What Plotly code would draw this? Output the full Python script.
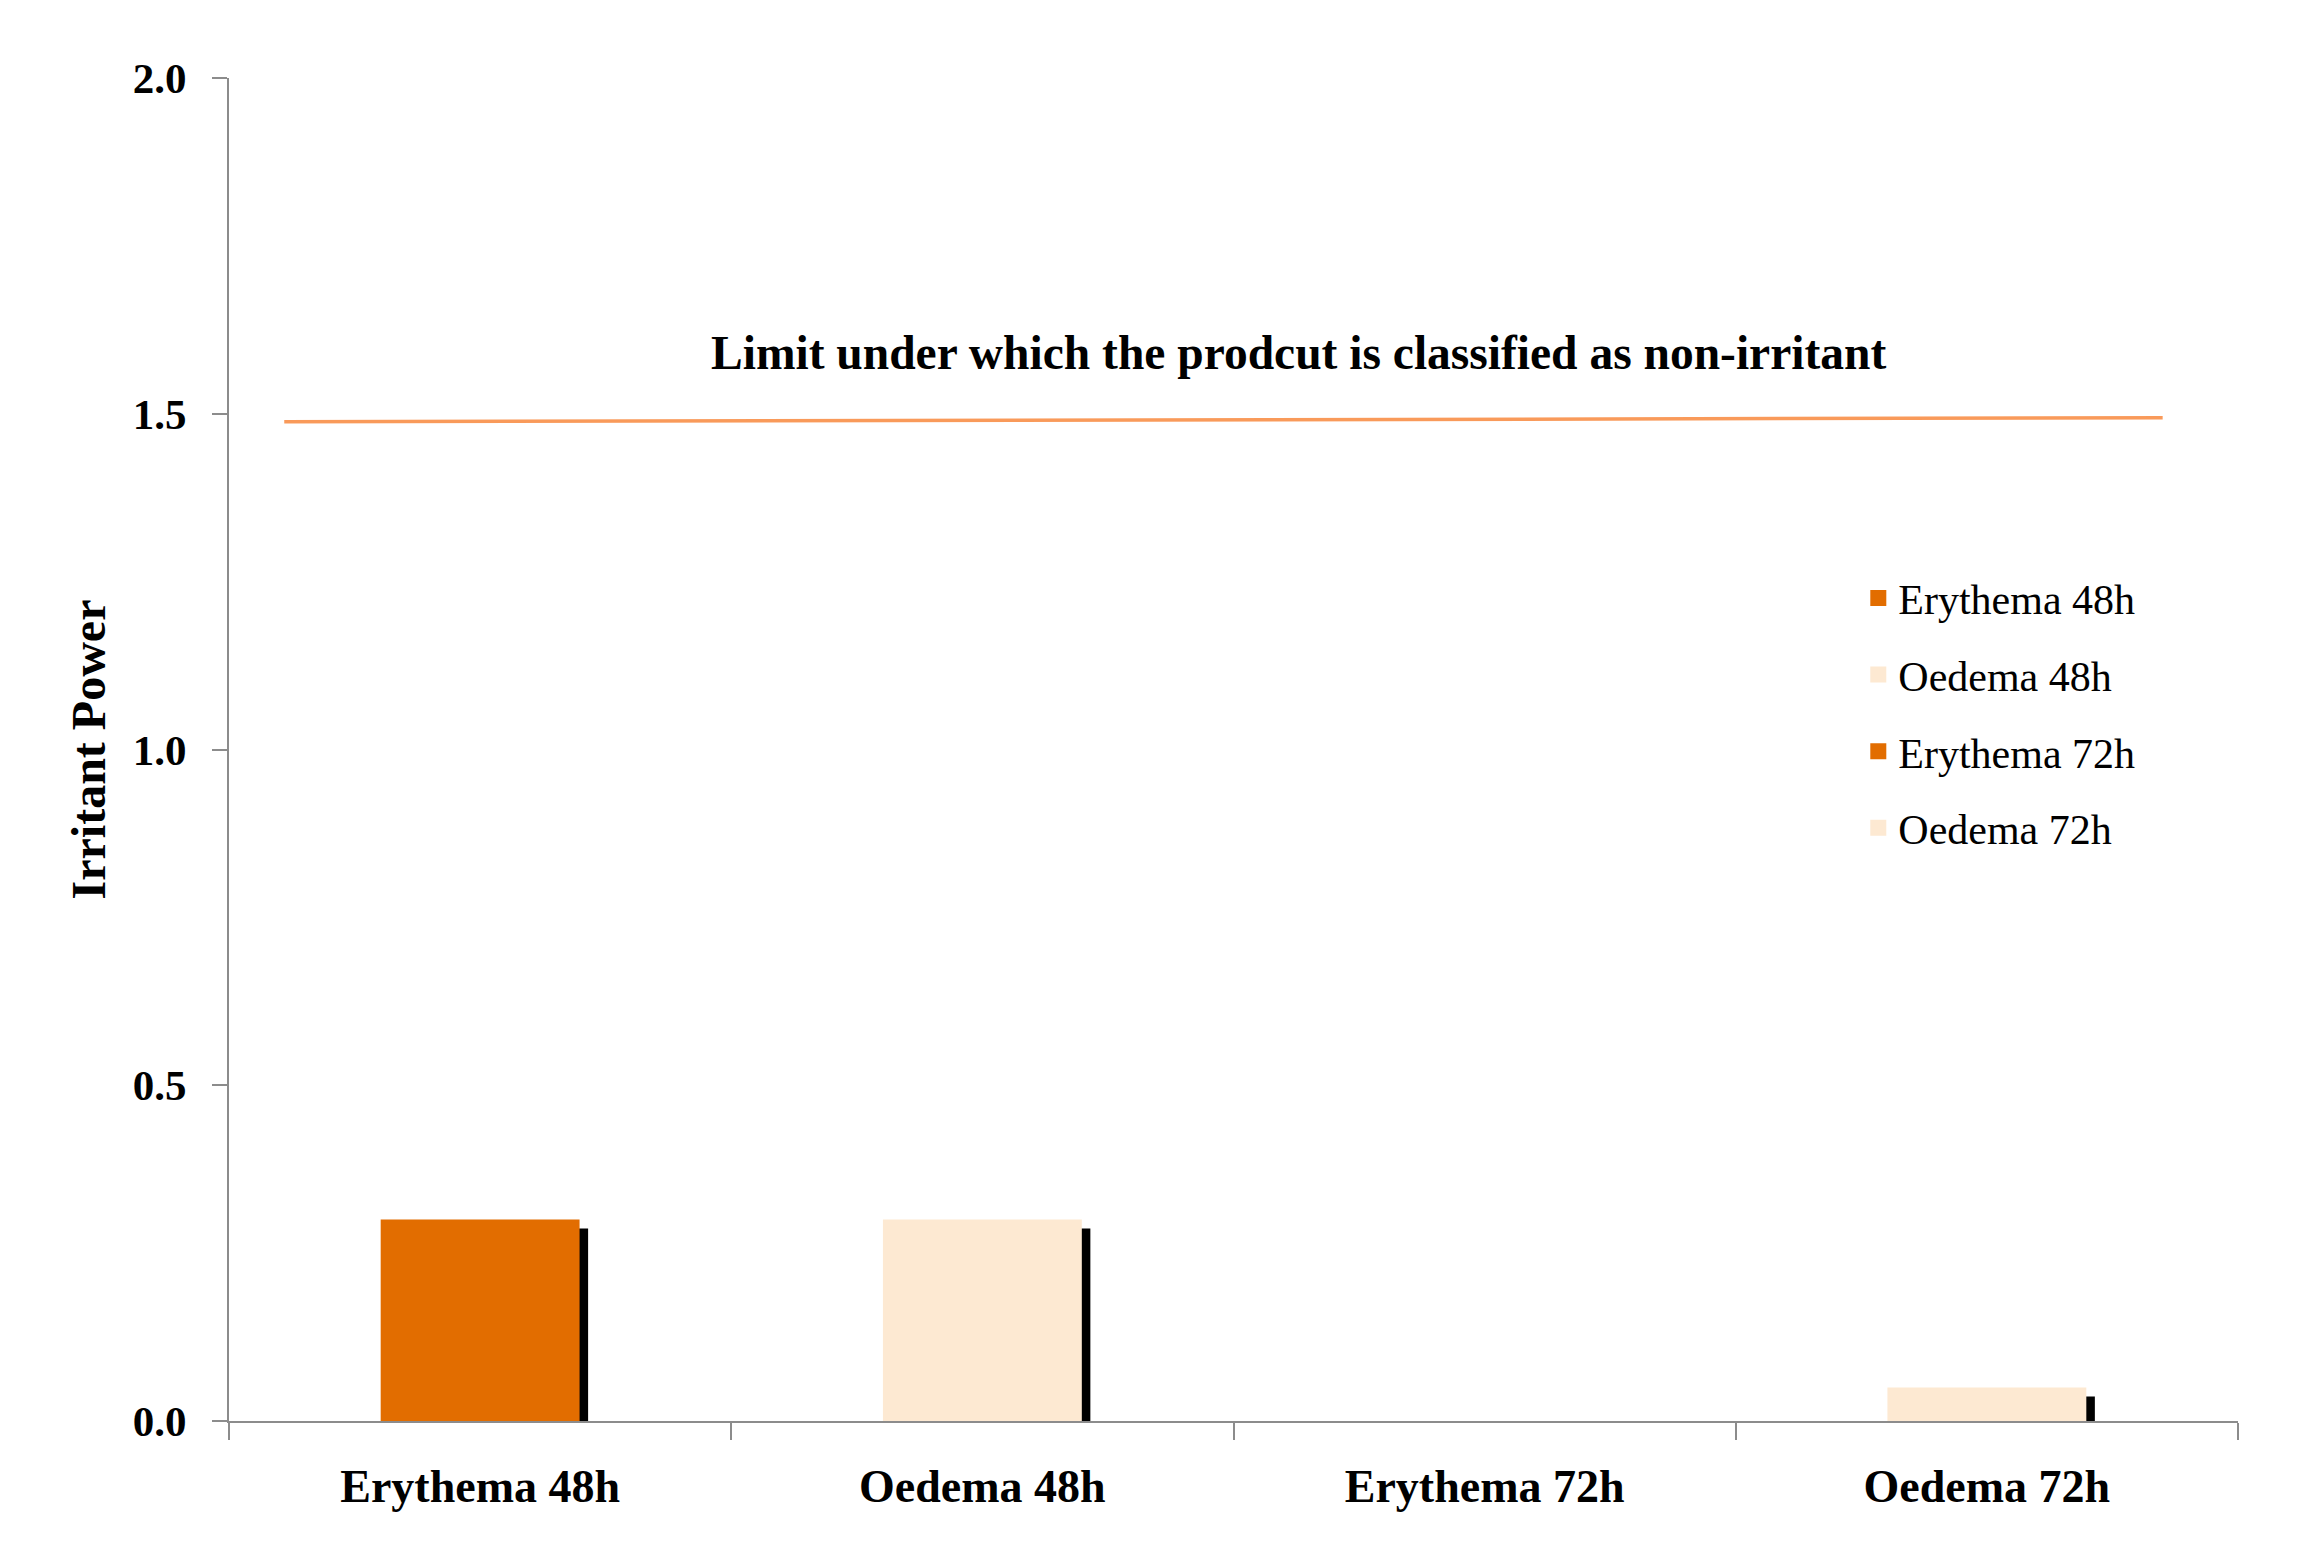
import plotly.graph_objects as go

categories = ["Erythema 48h", "Oedema 48h", "Erythema 72h", "Oedema 72h"]
values = [0.30, 0.30, 0.0, 0.05]
bar_colors = ["#E26D00", "#FDE9D2", "#E26D00", "#FDE9D2"]
y_ticks = [0.0, 0.5, 1.0, 1.5, 2.0]
y_tick_labels = ["0.0", "0.5", "1.0", "1.5", "2.0"]

limit_text = "Limit under which the prodcut is classified as non-irritant"
limit_y = [1.488, 1.494]          # reference line level (left, right)
limit_x = [-0.39, 3.35]           # extent of the reference line in category units

FONT = "Liberation Serif"
BAR_W = 0.396
SHADOW_DX = 0.017
SHADOW_DROP = 0.0134

fig = go.Figure()

# drop shadows (drawn behind)
shadow_tops = [v - SHADOW_DROP if v > 0 else 0 for v in values]
fig.add_trace(go.Bar(
    x=categories, y=[t + 0.0045 if t > 0 else 0 for t in shadow_tops], base=-0.0045,
    width=BAR_W, offset=-BAR_W / 2 + SHADOW_DX,
    marker=dict(color="black", line=dict(width=0)),
    showlegend=False, hoverinfo="skip", cliponaxis=False,
))

for cat, val, col in zip(categories, values, bar_colors):
    fig.add_trace(go.Bar(
        x=[cat], y=[val], name=cat, width=BAR_W,
        marker=dict(color=col, line=dict(width=0)),
        showlegend=False,
    ))
    # legend entry with a larger square swatch
    fig.add_trace(go.Scatter(
        x=[None], y=[None], mode="markers", name=cat, legendgroup=cat,
        marker=dict(symbol="square", size=24, color=col),
    ))

fig.add_shape(type="line", xref="x", yref="y",
              x0=limit_x[0], x1=limit_x[1], y0=limit_y[0], y1=limit_y[1],
              line=dict(color="#F99A5A", width=3.5))

fig.add_annotation(x=0.5325, xref="paper", y=1.59, yref="y",
                   text="<b>" + limit_text + "</b>", showarrow=False,
                   font=dict(family=FONT, size=47.5, color="black"),
                   xanchor="center", yanchor="middle")

fig.update_layout(
    width=2300, height=1563,
    margin=dict(l=221, r=70, t=70, b=150, autoexpand=False),
    plot_bgcolor="white", paper_bgcolor="white",
    barmode="overlay",
    font=dict(family=FONT, color="black"),
    legend=dict(
        x=0.811, y=0.638, xanchor="left", yanchor="top",
        font=dict(family=FONT, size=42, color="black"),
        tracegroupgap=19, bgcolor="rgba(0,0,0,0)", itemsizing="trace",
    ),
    xaxis=dict(
        categoryorder="array", categoryarray=categories,
        range=[-0.5, 3.5],
        showline=True, linecolor="#8C8C8C", linewidth=2,
        ticks="outside", tickson="boundaries", ticklen=17, tickwidth=2, tickcolor="#8C8C8C",
        tickfont=dict(family=FONT, size=46, color="black"),
        tickprefix="<b>", ticksuffix="</b>",
        ticklabelstandoff=24,
        showgrid=False, zeroline=False,
    ),
    yaxis=dict(
        range=[0, 2],
        tickvals=y_ticks, ticktext=["<b>" + t + "</b>" for t in y_tick_labels],
        showline=True, linecolor="#8C8C8C", linewidth=2,
        ticks="outside", ticklen=15, tickwidth=2, tickcolor="#8C8C8C",
        tickfont=dict(family=FONT, size=43, color="black"),
        ticklabelstandoff=17,
        showgrid=False, zeroline=False,
        title=dict(text="<b>Irritant Power</b>", font=dict(family=FONT, size=48, color="black"),
                   standoff=12),
    ),
)

fig.write_html("out.html")
